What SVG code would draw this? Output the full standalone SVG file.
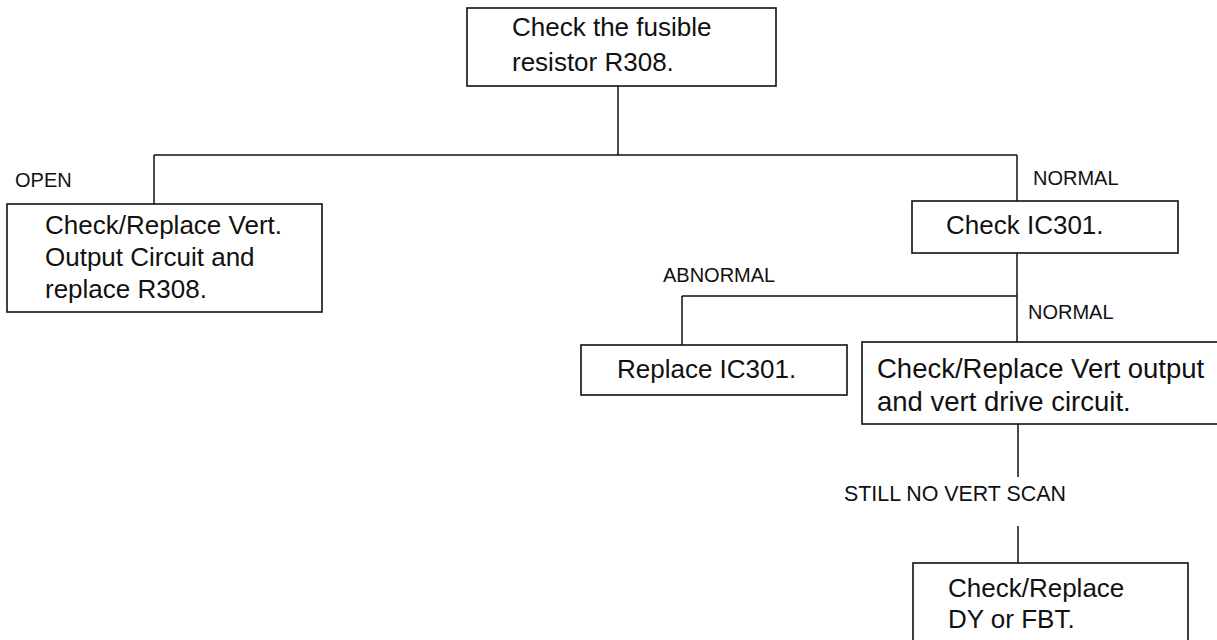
<svg xmlns="http://www.w3.org/2000/svg" width="1217" height="640" viewBox="0 0 1217 640">
<style>
.box{fill:#fff;stroke:#111;stroke-width:1.6}
.t{font-family:"Liberation Sans",Arial,sans-serif;font-size:26px;fill:#111}
.lb{font-family:"Liberation Sans",Arial,sans-serif;font-size:20px;fill:#111}
.c{stroke:#111;stroke-width:1.5;fill:none}
</style>
<rect width="1217" height="640" fill="#fff"/>
<g id="connectors">
<path class="c" d="M618 86V155M154 155H1017M154 155V204M1017 155V201"/>
<path class="c" d="M1017 253V343M682 296H1017M682 296V345"/>
<path class="c" d="M1018 424V477M1018 526V563"/>
</g>
<g id="labels">
<text class="lb" x="15" y="187">OPEN</text>
<text class="lb" x="1033" y="185">NORMAL</text>
<text class="lb" x="663" y="282">ABNORMAL</text>
<text class="lb" x="1028" y="319">NORMAL</text>
<text class="lb" x="844" y="501" style="font-size:21.4px">STILL NO VERT SCAN</text>
</g>
<g id="n1">
<rect class="box" x="467" y="8" width="309" height="78"/>
<text class="t" x="512" y="36">Check the fusible</text>
<text class="t" x="512" y="71">resistor R308.</text>
</g>
<g id="n2">
<rect class="box" x="7" y="204" width="315" height="108"/>
<text class="t" x="45" y="234">Check/Replace Vert.</text>
<text class="t" x="45" y="266">Output Circuit and</text>
<text class="t" x="45" y="298">replace R308.</text>
</g>
<g id="n3">
<rect class="box" x="912" y="201" width="266" height="52"/>
<text class="t" x="946" y="234">Check IC301.</text>
</g>
<g id="n4">
<rect class="box" x="581" y="345" width="266" height="50"/>
<text class="t" x="617" y="378">Replace IC301.</text>
</g>
<g id="n5">
<rect class="box" x="862" y="342" width="360" height="82"/>
<text class="t" x="877" y="378" style="font-size:27.5px">Check/Replace Vert output</text>
<text class="t" x="877" y="411" style="font-size:27.5px">and vert drive circuit.</text>
</g>
<g id="n6">
<rect class="box" x="913" y="563" width="275" height="85"/>
<text class="t" x="948" y="597">Check/Replace</text>
<text class="t" x="948" y="628">DY or FBT.</text>
</g>
</svg>
